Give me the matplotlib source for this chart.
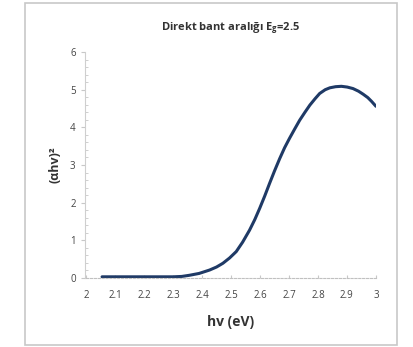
import numpy as np
import matplotlib

matplotlib.use("Agg")
import matplotlib.pyplot as plt
from matplotlib.patches import Rectangle
from matplotlib.ticker import MultipleLocator

# photon energy (eV) and (alpha h nu)^2
hv = [2.055, 2.1, 2.2, 2.3, 2.33, 2.356, 2.39, 2.426, 2.45, 2.472, 2.495, 2.518,
      2.54, 2.564, 2.582, 2.599, 2.616, 2.633, 2.65, 2.668, 2.685, 2.702, 2.72,
      2.737, 2.755, 2.772, 2.79, 2.806, 2.825, 2.841, 2.861, 2.881, 2.901,
      2.921, 2.94, 2.956, 2.972, 2.985, 3.0]
ahv2 = [0.03, 0.03, 0.03, 0.03, 0.04, 0.07, 0.12, 0.21, 0.29, 0.39, 0.53, 0.70,
        0.95, 1.27, 1.55, 1.85, 2.17, 2.51, 2.84, 3.17, 3.46, 3.71, 3.96,
        4.19, 4.40, 4.59, 4.76, 4.90, 5.00, 5.05, 5.08, 5.09, 5.07,
        5.03, 4.96, 4.88, 4.79, 4.69, 4.56]

x_ticks = [2, 2.1, 2.2, 2.3, 2.4, 2.5, 2.6, 2.7, 2.8, 2.9, 3]
x_labels = ["2", "2.1", "2.2", "2.3", "2.4", "2.5", "2.6", "2.7", "2.8", "2.9", "3"]
y_ticks = [0, 1, 2, 3, 4, 5, 6]

plt.rcParams["font.family"] = ["Open Sans", "DejaVu Sans"]

fig = plt.figure(figsize=(4.14, 3.47), dpi=100)
ax = fig.add_axes([0.208, 0.199, 0.700, 0.651])

# outer chart frame
fig.patches.append(Rectangle((0.06, 0.006), 0.899, 0.985, transform=fig.transFigure,
                             fill=False, edgecolor="#c8c8c8", linewidth=1.2))

ax.plot(hv, ahv2, color="#1f3a66", linewidth=2.2, solid_capstyle="round",
        solid_joinstyle="round")

ax.set_xlim(2, 3)
ax.set_ylim(0, 6)
ax.set_xticks(x_ticks)
ax.set_xticklabels(x_labels)
ax.set_yticks(y_ticks)
ax.yaxis.set_minor_locator(MultipleLocator(0.2))

for side in ["top", "right"]:
    ax.spines[side].set_visible(False)
ax.spines["left"].set_color("#cfcfcf")
ax.spines["bottom"].set_color("#c0c0c0")
ax.spines["bottom"].set_linestyle((0, (2, 1.5)))
ax.spines["left"].set_position(("data", 1.995))

ax.tick_params(axis="both", which="both", colors="#c8c8c8", labelcolor="#444444",
               labelsize=7)
ax.tick_params(axis="y", which="major", length=3, direction="out")
ax.tick_params(axis="y", which="minor", length=2, direction="in")
ax.tick_params(axis="x", which="major", length=2, direction="in", pad=9)

ax.set_title(r"Direkt bant aralığı E$_\mathregular{g}$=2.5", fontsize=8,
             fontweight="bold", color="#333333", pad=16)
ax.set_xlabel("hv (eV)", fontsize=10, fontweight="bold", color="#333333", labelpad=10)
ax.set_ylabel("(αhv)²", fontsize=9, fontweight="bold", color="#333333", labelpad=6)

plt.savefig("out.png", dpi=100)
